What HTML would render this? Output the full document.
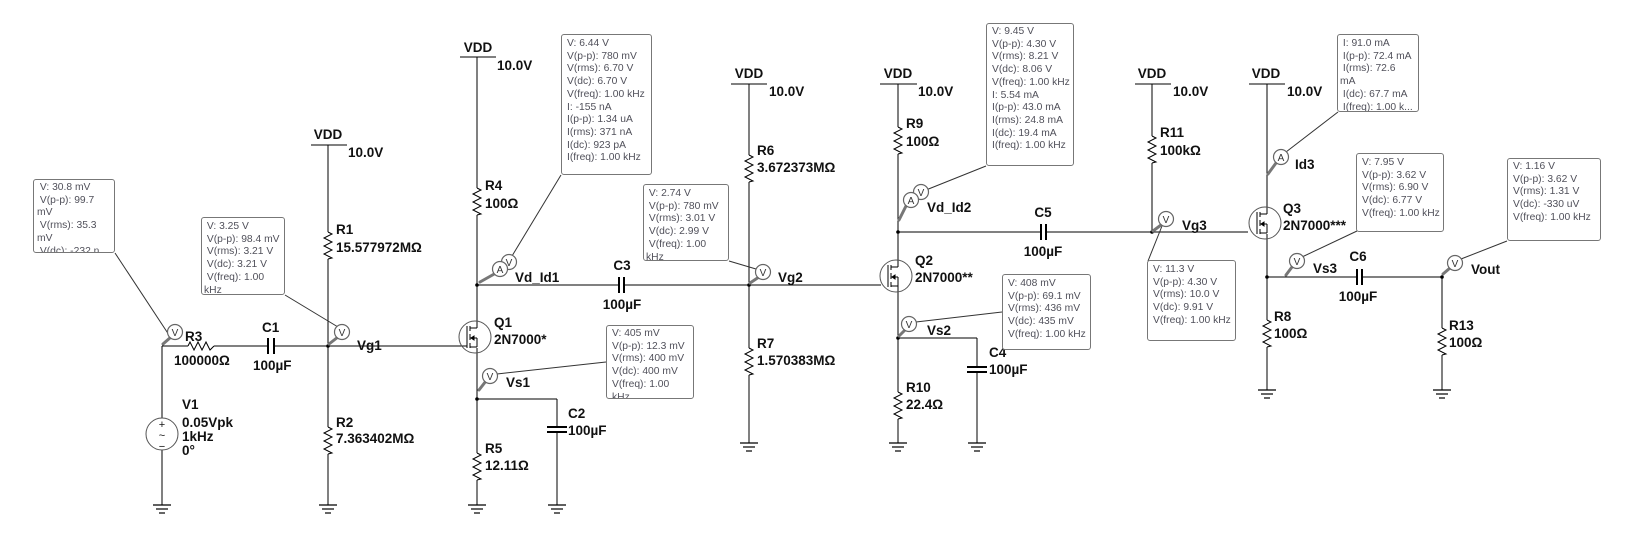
<!DOCTYPE html>
<html><head><meta charset="utf-8"><style>
body{margin:0;background:#fff;}
#w{position:relative;width:1650px;height:556px;overflow:hidden;background:#fff;}
svg{position:absolute;left:0;top:0;}
.b{position:absolute;border:1px solid #777;border-radius:3px;background:#fff;overflow:hidden;font:10.3px "Liberation Sans",sans-serif;color:#50505a;white-space:pre;line-height:12.7px;box-sizing:border-box;}
text{font-family:"Liberation Sans",sans-serif;}
.l{font-size:13.5px;font-weight:bold;fill:#111;}
</style></head><body><div id="w">
<svg width="1650" height="556" viewBox="0 0 1650 556">
<defs>
<g id="gnd" stroke="#000" stroke-width="1.2"><line x1="-9" y1="0" x2="9" y2="0"/><line x1="-6" y1="4" x2="6" y2="4"/><line x1="-3" y1="8" x2="3" y2="8"/></g>
<path id="res" d="M0,0 l4,2 l-8,4 l8,4 l-8,4 l8,4 l-8,4 l8,4 l-4,1" fill="none" stroke="#000" stroke-width="1"/>
<g id="fet" fill="none" stroke="#000" stroke-width="1">
<circle cx="0" cy="0" r="16" stroke="#555"/>
<line x1="-8" y1="-11" x2="-8" y2="11"/>
<line x1="-5" y1="-11" x2="-5" y2="-6"/><line x1="-5" y1="-3" x2="-5" y2="3"/><line x1="-5" y1="6" x2="-5" y2="11"/>
<line x1="-5" y1="-9" x2="2" y2="-9"/><line x1="-5" y1="10" x2="2" y2="10"/><line x1="-5" y1="1" x2="2" y2="1"/><line x1="2" y1="1" x2="2" y2="10"/>
<path d="M-4,1 l3,-2 v4 z" fill="#000"/>
</g>
<g id="pv"><circle r="7.5" fill="#fff" stroke="#666" stroke-width="1.2"/><text x="0" y="4" font-size="10" text-anchor="middle" fill="#333">V</text></g>
<g id="pa"><circle r="7.5" fill="#fff" stroke="#666" stroke-width="1.2"/><text x="0" y="4" font-size="10" text-anchor="middle" fill="#333">A</text></g>
</defs>
<g stroke="#000" stroke-width="1" fill="none">
<line x1="162" y1="346" x2="162" y2="418"/><line x1="162" y1="450" x2="162" y2="505"/>
<circle cx="162" cy="434" r="16" stroke="#555"/>
<line x1="162" y1="346" x2="188" y2="346"/>
<line x1="214" y1="346" x2="268" y2="346"/>
<line x1="274" y1="346" x2="467" y2="346"/>
<line x1="268" y1="338" x2="268" y2="354" stroke-width="2"/><line x1="274" y1="338" x2="274" y2="354" stroke-width="2"/>
<line x1="311" y1="145" x2="347" y2="145"/>
<line x1="328" y1="145" x2="328" y2="232"/><line x1="328" y1="259" x2="328" y2="427"/><line x1="328" y1="454" x2="328" y2="505"/>
<line x1="460" y1="57" x2="496" y2="57"/>
<line x1="477" y1="57" x2="477" y2="188"/><line x1="477" y1="215" x2="477" y2="328"/><line x1="477" y1="348" x2="477" y2="453"/><line x1="477" y1="480" x2="477" y2="505"/>
<line x1="477" y1="285" x2="619" y2="285"/><line x1="624" y1="285" x2="881" y2="285"/>
<line x1="619" y1="277" x2="619" y2="293" stroke-width="2"/><line x1="624" y1="277" x2="624" y2="293" stroke-width="2"/>
<line x1="477" y1="399" x2="557" y2="399"/><line x1="557" y1="399" x2="557" y2="427"/><line x1="557" y1="432" x2="557" y2="505"/>
<line x1="547" y1="427" x2="567" y2="427" stroke-width="2"/><line x1="547" y1="432" x2="567" y2="432" stroke-width="2"/>
<line x1="731" y1="84" x2="767" y2="84"/>
<line x1="749" y1="84" x2="749" y2="155"/><line x1="749" y1="182" x2="749" y2="348"/><line x1="749" y1="375" x2="749" y2="443"/>
<line x1="880" y1="84" x2="917" y2="84"/>
<line x1="898" y1="84" x2="898" y2="127"/><line x1="898" y1="154" x2="898" y2="267"/><line x1="898" y1="286" x2="898" y2="392"/><line x1="898" y1="419" x2="898" y2="443"/>
<line x1="898" y1="232" x2="1041" y2="232"/><line x1="1046" y1="232" x2="1248" y2="232"/>
<line x1="1041" y1="224" x2="1041" y2="240" stroke-width="2"/><line x1="1046" y1="224" x2="1046" y2="240" stroke-width="2"/>
<line x1="898" y1="338" x2="977" y2="338"/><line x1="977" y1="338" x2="977" y2="367"/><line x1="977" y1="372" x2="977" y2="443"/>
<line x1="967" y1="367" x2="987" y2="367" stroke-width="2"/><line x1="967" y1="372" x2="987" y2="372" stroke-width="2"/>
<line x1="1135" y1="84" x2="1171" y2="84"/>
<line x1="1152" y1="84" x2="1152" y2="136"/><line x1="1152" y1="163" x2="1152" y2="232"/>
<line x1="1249" y1="84" x2="1285" y2="84"/>
<line x1="1267" y1="84" x2="1267" y2="214"/><line x1="1267" y1="234" x2="1267" y2="320"/><line x1="1267" y1="347" x2="1267" y2="390"/>
<line x1="1267" y1="277" x2="1357" y2="277"/><line x1="1362" y1="277" x2="1442" y2="277"/>
<line x1="1357" y1="269" x2="1357" y2="285" stroke-width="2"/><line x1="1362" y1="269" x2="1362" y2="285" stroke-width="2"/>
<line x1="1442" y1="277" x2="1442" y2="328"/><line x1="1442" y1="355" x2="1442" y2="390"/>
<g stroke="#333"><line x1="115" y1="253" x2="171" y2="338"/><line x1="285" y1="295" x2="338" y2="327"/>
<line x1="561" y1="175" x2="512" y2="256"/><line x1="729" y1="261" x2="756" y2="269"/>
<line x1="606" y1="362" x2="497" y2="374"/><line x1="986" y1="166" x2="926" y2="190"/>
<line x1="1148" y1="261" x2="1162" y2="226"/><line x1="1002" y1="312" x2="916" y2="322"/>
<line x1="1338" y1="112" x2="1286" y2="152"/><line x1="1357" y1="231" x2="1302" y2="257"/>
<line x1="1507" y1="241" x2="1461" y2="259"/></g>
</g>
<g fill="#111" font-size="11" text-anchor="middle"><text x="162" y="428">+</text><text x="162" y="439">~</text><text x="162" y="450">−</text></g>
<use href="#res" x="328" y="232"/><use href="#res" x="328" y="427"/>
<use href="#res" x="477" y="188"/><use href="#res" x="477" y="453"/>
<use href="#res" x="749" y="155"/><use href="#res" x="749" y="348"/>
<use href="#res" x="898" y="127"/><use href="#res" x="898" y="392"/>
<use href="#res" x="1152" y="136"/><use href="#res" x="1267" y="320"/><use href="#res" x="1442" y="328"/>
<path d="M188,346 l2,-4 l4,8 l4,-8 l4,8 l4,-8 l4,8 l4,-4" fill="none" stroke="#000"/>
<use href="#fet" x="475" y="337"/><use href="#fet" x="896" y="276"/><use href="#fet" x="1265" y="223"/>
<use href="#gnd" x="162" y="505"/><use href="#gnd" x="328" y="505"/><use href="#gnd" x="477" y="505"/><use href="#gnd" x="557" y="505"/>
<use href="#gnd" x="749" y="443"/><use href="#gnd" x="898" y="443"/><use href="#gnd" x="977" y="443"/>
<use href="#gnd" x="1267" y="390"/><use href="#gnd" x="1442" y="390"/>
<g fill="#000"><circle cx="328" cy="346" r="1.8"/><circle cx="477" cy="285" r="1.8"/><circle cx="477" cy="399" r="1.8"/><circle cx="749" cy="285" r="1.8"/><circle cx="898" cy="232" r="1.8"/><circle cx="898" cy="338" r="1.8"/><circle cx="1152" cy="232" r="1.8"/><circle cx="1267" cy="277" r="1.8"/><circle cx="1442" cy="277" r="1.8"/></g>
<g stroke="#777" stroke-width="3" stroke-linecap="round">
<line x1="163" y1="344" x2="171" y2="337"/><line x1="329" y1="344" x2="338" y2="337"/>
<line x1="480" y1="282" x2="496" y2="273"/><line x1="479" y1="390" x2="486" y2="381"/>
<line x1="750" y1="283" x2="759" y2="277"/><line x1="899" y1="220" x2="906" y2="206"/>
<line x1="899" y1="336" x2="905" y2="330"/><line x1="1153" y1="231" x2="1161" y2="225"/>
<line x1="1268" y1="174" x2="1276" y2="163"/><line x1="1286" y1="275" x2="1292" y2="267"/>
<line x1="1443" y1="274" x2="1450" y2="268"/></g>
<use href="#pv" x="175" y="332"/><use href="#pv" x="342" y="332"/>
<use href="#pv" x="509" y="262"/><use href="#pa" x="500" y="269"/>
<use href="#pv" x="490" y="376"/><use href="#pv" x="763" y="272"/>
<use href="#pv" x="921" y="192"/><use href="#pa" x="911" y="200"/>
<use href="#pv" x="909" y="324"/><use href="#pv" x="1166" y="219"/>
<use href="#pa" x="1281" y="157"/><use href="#pv" x="1297" y="261"/><use href="#pv" x="1455" y="263"/>
<g class="l">
<text x="185" y="341">R3</text><text x="174" y="365">100000Ω</text>
<text x="262" y="332">C1</text><text x="253" y="370">100µF</text>
<text x="357" y="350">Vg1</text>
<text x="182" y="409">V1</text><text x="182" y="427">0.05Vpk</text><text x="182" y="441">1kHz</text><text x="182" y="455">0°</text>
<text x="328" y="139" text-anchor="middle">VDD</text><text x="348" y="157">10.0V</text>
<text x="336" y="234">R1</text><text x="336" y="252">15.577972MΩ</text>
<text x="336" y="427">R2</text><text x="336" y="443">7.363402MΩ</text>
<text x="478" y="52" text-anchor="middle">VDD</text><text x="497" y="70">10.0V</text>
<text x="485" y="190">R4</text><text x="485" y="208">100Ω</text>
<text x="485" y="453">R5</text><text x="485" y="470">12.11Ω</text>
<text x="494" y="327">Q1</text><text x="494" y="344">2N7000*</text>
<text x="506" y="387">Vs1</text><text x="515" y="282">Vd_Id1</text>
<text x="568" y="418">C2</text><text x="568" y="435">100µF</text>
<text x="622" y="270" text-anchor="middle">C3</text><text x="622" y="309" text-anchor="middle">100µF</text>
<text x="778" y="282">Vg2</text>
<text x="749" y="78" text-anchor="middle">VDD</text><text x="769" y="96">10.0V</text>
<text x="757" y="155">R6</text><text x="757" y="172">3.672373MΩ</text>
<text x="757" y="348">R7</text><text x="757" y="365">1.570383MΩ</text>
<text x="898" y="78" text-anchor="middle">VDD</text><text x="918" y="96">10.0V</text>
<text x="906" y="128">R9</text><text x="906" y="146">100Ω</text>
<text x="927" y="212">Vd_Id2</text>
<text x="1043" y="217" text-anchor="middle">C5</text><text x="1043" y="256" text-anchor="middle">100µF</text>
<text x="915" y="265">Q2</text><text x="915" y="282">2N7000**</text>
<text x="927" y="335">Vs2</text>
<text x="989" y="357">C4</text><text x="989" y="374">100µF</text>
<text x="906" y="392">R10</text><text x="906" y="409">22.4Ω</text>
<text x="1152" y="78" text-anchor="middle">VDD</text><text x="1173" y="96">10.0V</text>
<text x="1160" y="137">R11</text><text x="1160" y="155">100kΩ</text>
<text x="1182" y="230">Vg3</text>
<text x="1266" y="78" text-anchor="middle">VDD</text><text x="1287" y="96">10.0V</text>
<text x="1295" y="169">Id3</text>
<text x="1283" y="213">Q3</text><text x="1283" y="230">2N7000***</text>
<text x="1313" y="273">Vs3</text>
<text x="1358" y="261" text-anchor="middle">C6</text><text x="1358" y="301" text-anchor="middle">100µF</text>
<text x="1274" y="321">R8</text><text x="1274" y="338">100Ω</text>
<text x="1471" y="274">Vout</text>
<text x="1449" y="330">R13</text><text x="1449" y="347">100Ω</text>
</g>
</svg>
<div class="b" style="left:33px;top:179px;width:82px;height:74px;padding:2px 0 0 3px;"> V: 30.8 mV
 V(p-p): 99.7
mV
 V(rms): 35.3
mV
 V(dc): -232 n</div>
<div class="b" style="left:201px;top:217px;width:84px;height:78px;padding:3px 0 0 2px;"> V: 3.25 V
 V(p-p): 98.4 mV
 V(rms): 3.21 V
 V(dc): 3.21 V
 V(freq): 1.00
kHz</div>
<div class="b" style="left:561px;top:34px;width:91px;height:141px;padding:3px 0 0 5px;">V: 6.44 V
V(p-p): 780 mV
V(rms): 6.70 V
V(dc): 6.70 V
V(freq): 1.00 kHz
I: -155 nA
I(p-p): 1.34 uA
I(rms): 371 nA
I(dc): 923 pA
I(freq): 1.00 kHz</div>
<div class="b" style="left:643px;top:184px;width:86px;height:77px;padding:3px 0 0 2px;"> V: 2.74 V
 V(p-p): 780 mV
 V(rms): 3.01 V
 V(dc): 2.99 V
 V(freq): 1.00
kHz</div>
<div class="b" style="left:606px;top:325px;width:88px;height:74px;padding:2px 0 0 5px;">V: 405 mV
V(p-p): 12.3 mV
V(rms): 400 mV
V(dc): 400 mV
V(freq): 1.00
kHz</div>
<div class="b" style="left:986px;top:23px;width:88px;height:143px;padding:2px 0 0 5px;">V: 9.45 V
V(p-p): 4.30 V
V(rms): 8.21 V
V(dc): 8.06 V
V(freq): 1.00 kHz
I: 5.54 mA
I(p-p): 43.0 mA
I(rms): 24.8 mA
I(dc): 19.4 mA
I(freq): 1.00 kHz</div>
<div class="b" style="left:1147px;top:260px;width:89px;height:81px;padding:3px 0 0 5px;">V: 11.3 V
V(p-p): 4.30 V
V(rms): 10.0 V
V(dc): 9.91 V
V(freq): 1.00 kHz</div>
<div class="b" style="left:1002px;top:274px;width:89px;height:76px;padding:3px 0 0 5px;">V: 408 mV
V(p-p): 69.1 mV
V(rms): 436 mV
V(dc): 435 mV
V(freq): 1.00 kHz</div>
<div class="b" style="left:1337px;top:34px;width:82px;height:78px;padding:3px 0 0 2px;"> I: 91.0 mA
 I(p-p): 72.4 mA
 I(rms): 72.6
mA
 I(dc): 67.7 mA
 I(freq): 1.00 k...</div>
<div class="b" style="left:1356px;top:153px;width:88px;height:79px;padding:3px 0 0 5px;">V: 7.95 V
V(p-p): 3.62 V
V(rms): 6.90 V
V(dc): 6.77 V
V(freq): 1.00 kHz</div>
<div class="b" style="left:1507px;top:158px;width:94px;height:83px;padding:2px 0 0 5px;">V: 1.16 V
V(p-p): 3.62 V
V(rms): 1.31 V
V(dc): -330 uV
V(freq): 1.00 kHz</div>
</div></body></html>
